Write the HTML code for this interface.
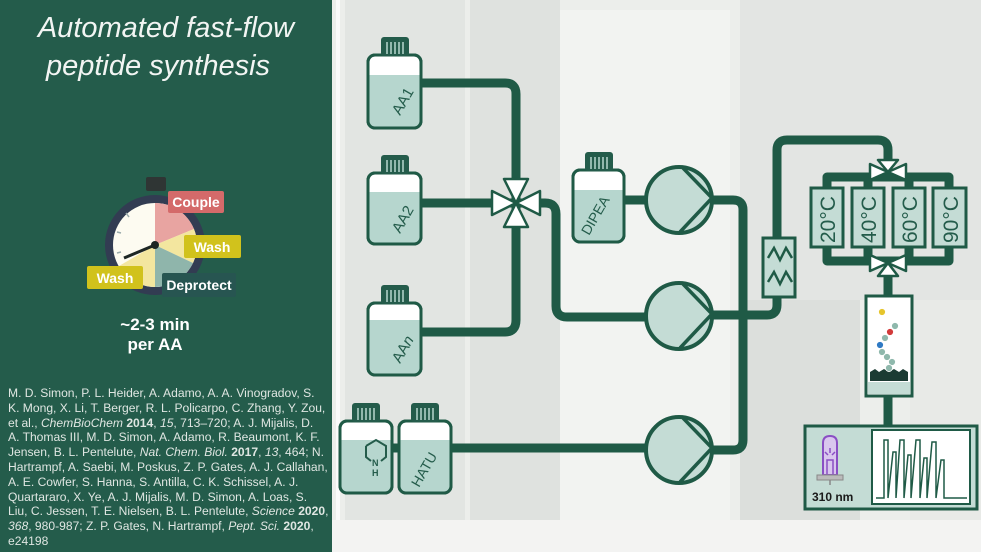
<!DOCTYPE html>
<html><head><meta charset="utf-8"><style>
html,body{margin:0;padding:0;width:981px;height:552px;overflow:hidden;background:#e9ebe8;font-family:"Liberation Sans",sans-serif}
.left{position:absolute;left:0;top:0;width:332px;height:552px;background:#245c4b}
.refs{position:absolute;left:8px;top:386px;font-size:12.1px;line-height:14.8px;color:#dfe6e2;white-space:nowrap}
</style></head><body>
<svg width="981" height="552" style="position:absolute;left:0;top:0" xmlns="http://www.w3.org/2000/svg">
<defs>
<g id="cap"><rect x="0" y="0" width="28" height="19" rx="3" fill="#245c4b"/><path d="M6 5v12M10 5v12M14 5v12M18 5v12M22 5v12" stroke="#b6d6ce" stroke-width="1.5"/></g>
</defs>
<!-- faded background photo suggestion -->
<rect x="332" y="0" width="649" height="552" fill="#eceeeb"/>
<rect x="336" y="0" width="4" height="552" fill="#fafafa"/>
<rect x="345" y="0" width="120" height="552" fill="#e2e5e2"/>
<rect x="470" y="0" width="90" height="552" fill="#dfe2df"/>
<rect x="560" y="10" width="170" height="520" fill="#f2f3f1"/>
<rect x="740" y="0" width="241" height="300" fill="#e3e5e3"/>
<rect x="740" y="300" width="120" height="252" fill="#dcdfdc"/>
<rect x="910" y="300" width="71" height="252" fill="#e8eae7"/>
<rect x="332" y="520" width="649" height="32" fill="#f3f3f2"/>

<g fill="none" stroke="#1f5a46" stroke-width="9" stroke-linejoin="round">
<!-- AA lines -->
<path d="M421 83 H505 Q516 83 516 94 V320 Q516 332 505 332 H421"/>
<path d="M421 203 H516"/>
<path d="M516 203 H545 Q556 203 556 214 V306 Q556 317 567 317 H650"/>
<path d="M451 448 H650"/>
<path d="M392 448 H399"/>
<path d="M624 200 H650"/>
<!-- outputs -->
<path d="M708 200 H733 Q743 200 743 210 V440 Q743 450 733 450 H708"/>
<path d="M708 315 H767 Q777 315 777 305 V150 Q777 140 787 140 H878 Q888 140 888 150 V170"/>
<!-- manifold -->
<path d="M827 188 V177 H949 V188"/>
<path d="M868 177 V188 M909 177 V188"/>
<path d="M827 247 V261 H949 V247"/>
<path d="M868 247 V261 M909 247 V261"/>
<path d="M888 261 V296"/>
<path d="M888 396 V426"/>
</g>
<!-- heat exchanger -->
<rect x="763" y="238" width="32" height="59" fill="#c4dcd5" stroke="#1f5a46" stroke-width="3"/>
<path d="M768 258 l6 -10 l6 12 l6 -12 l6 10 M768 282 l6 -10 l6 12 l6 -12 l6 10" fill="none" stroke="#1f5a46" stroke-width="2.5"/>

<!-- bottles -->
<g stroke="#1f5a46" stroke-width="3">
<g><rect x="368" y="55" width="53" height="73" rx="7" fill="#fff"/><path d="M369.5 75 H419.5 V121 Q419.5 126.5 414 126.5 H375 Q369.5 126.5 369.5 121Z" fill="#b6d6ce" stroke="none"/><rect x="368" y="55" width="53" height="73" rx="7" fill="none"/></g>
<g><rect x="368" y="173" width="53" height="71" rx="7" fill="#fff"/><path d="M369.5 192 H419.5 V237 Q419.5 242.5 414 242.5 H375 Q369.5 242.5 369.5 237Z" fill="#b6d6ce" stroke="none"/><rect x="368" y="173" width="53" height="71" rx="7" fill="none"/></g>
<g><rect x="368" y="303" width="53" height="72" rx="7" fill="#fff"/><path d="M369.5 320 H419.5 V368 Q419.5 373.5 414 373.5 H375 Q369.5 373.5 369.5 368Z" fill="#b6d6ce" stroke="none"/><rect x="368" y="303" width="53" height="72" rx="7" fill="none"/></g>
<g><rect x="340" y="421" width="52" height="72" rx="7" fill="#fff"/><path d="M341.5 440 H390.5 V486 Q390.5 491.5 385 491.5 H347 Q341.5 491.5 341.5 486Z" fill="#b6d6ce" stroke="none"/><rect x="340" y="421" width="52" height="72" rx="7" fill="none"/></g>
<g><rect x="399" y="421" width="52" height="72" rx="7" fill="#fff"/><path d="M400.5 440 H449.5 V486 Q449.5 491.5 444 491.5 H406 Q400.5 491.5 400.5 486Z" fill="#b6d6ce" stroke="none"/><rect x="399" y="421" width="52" height="72" rx="7" fill="none"/></g>
<g><rect x="573" y="170" width="51" height="72" rx="7" fill="#fff"/><path d="M574.5 190 H622.5 V235 Q622.5 240.5 617 240.5 H580 Q574.5 240.5 574.5 235Z" fill="#b6d6ce" stroke="none"/><rect x="573" y="170" width="51" height="72" rx="7" fill="none"/></g>
</g>
<use href="#cap" x="381" y="37"/><use href="#cap" x="381" y="155"/><use href="#cap" x="381" y="285"/>
<use href="#cap" x="352" y="403"/><use href="#cap" x="411" y="403"/><use href="#cap" x="585" y="152"/>
<g fill="#245c4b" font-size="15" font-family="Liberation Sans, sans-serif">
<text transform="translate(400,116) rotate(-60)">AA1</text>
<text transform="translate(400,234) rotate(-60)">AA2</text>
<text transform="translate(400,364) rotate(-60)">AA<tspan font-style="italic">n</tspan></text>
<text transform="translate(419,488) rotate(-60)" font-size="14">HATU</text>
<text transform="translate(589,236) rotate(-60)" font-size="14">DIPEA</text>
</g>
<!-- piperidine -->
<path d="M366 446 l10 -6 l10 6 v11 l-5 4 M371 461 l-5 -4 v-11" fill="none" stroke="#245c4b" stroke-width="2"/>
<text x="372" y="466" font-size="9" fill="#245c4b" font-weight="bold">N</text>
<text x="372" y="476" font-size="9" fill="#245c4b" font-weight="bold">H</text>

<!-- 4-way valve -->
<g fill="#fff" stroke="#1f5a46" stroke-width="2.5" stroke-linejoin="round">
<path d="M516 203 L504 179 H528Z"/><path d="M516 203 L504 227 H528Z"/>
<path d="M516 203 L492 191 V215Z"/><path d="M516 203 L540 191 V215Z"/>
</g>
<!-- top 3-way valve -->
<g fill="#fff" stroke="#1f5a46" stroke-width="2.5" stroke-linejoin="round">
<path d="M888 172 L878 160 H898Z"/><path d="M888 172 L870 164 V180Z"/><path d="M888 172 L906 164 V180Z"/>
<path d="M888 263 L870 255 V271Z"/><path d="M888 263 L906 255 V271Z"/><path d="M888 263 L878 276 H898Z"/>
</g>

<!-- pumps -->
<g fill="#c4dcd5" stroke="#1f5a46" stroke-width="4">
<circle cx="679" cy="200" r="33"/><circle cx="679" cy="316" r="33"/><circle cx="679" cy="450" r="33"/>
</g>
<g fill="none" stroke="#1f5a46" stroke-width="3.5">
<path d="M683 168 L712 198 L680 232"/><path d="M683 284 L712 314 L680 348"/><path d="M683 418 L712 448 L680 482"/>
</g>

<!-- temp columns -->
<g fill="#c4dcd5" stroke="#1f5a46" stroke-width="3">
<rect x="811" y="188" width="32" height="59"/><rect x="852" y="188" width="32" height="59"/>
<rect x="893" y="188" width="32" height="59"/><rect x="933" y="188" width="33" height="59"/>
</g>
<g fill="#245c4b" font-size="21" font-family="Liberation Sans, sans-serif">
<text transform="translate(835,243) rotate(-90)">20°C</text>
<text transform="translate(876,243) rotate(-90)">40°C</text>
<text transform="translate(917,243) rotate(-90)">60°C</text>
<text transform="translate(958,243) rotate(-90)">90°C</text>
</g>

<!-- reactor -->
<rect x="866" y="296" width="46" height="100" fill="#fff" stroke="#1f5a46" stroke-width="3"/>
<rect x="868" y="382" width="42" height="12" fill="#c4dcd5"/>
<path d="M870 372 l5 -3 l4 3 l5 -3 l5 3 l5 -3 l5 3 l4 -3 l5 3 v9 h-38z" fill="#1b3b33"/>
<g stroke="#fff" stroke-width="0.8">
<circle cx="882" cy="312" r="3.5" fill="#e6c52c"/>
<circle cx="895" cy="326" r="3.5" fill="#8fb8ac"/><circle cx="890" cy="332" r="3.5" fill="#d23a3a"/>
<circle cx="885" cy="338" r="3.5" fill="#8fb8ac"/><circle cx="880" cy="345" r="3.5" fill="#2f7ac4"/>
<circle cx="882" cy="352" r="3.5" fill="#8fb8ac"/><circle cx="887" cy="357" r="3.5" fill="#8fb8ac"/>
<circle cx="892" cy="362" r="3.5" fill="#8fb8ac"/><circle cx="889" cy="368" r="3.5" fill="#8fb8ac"/>
</g>

<!-- detector -->
<rect x="805" y="426" width="172" height="83" fill="#c4dcd5" stroke="#1f5a46" stroke-width="3"/>
<rect x="872" y="430" width="98" height="74" fill="#fff" stroke="#1f5a46" stroke-width="2"/>
<path d="M876 498 H884 V440 H888 V498 L893 452 H896 V498 L900 440 H904 V498 L908 455 H911 V498 L916 440 H920 V498 L924 458 H927 V498 L932 442 H936 V498 L941 460 H944 V498 H967" fill="none" stroke="#1f5a46" stroke-width="1.5"/>
<path d="M823 475 V443 Q823 436 830 436 Q837 436 837 443 V475Z" fill="#d9c6ee" stroke="#8a4fc4" stroke-width="2"/>
<path d="M827 474 V460 H833 V474 M830 448 v5 M825 452 l3 3 M835 452 l-3 3" fill="none" stroke="#8a4fc4" stroke-width="1.5"/>
<rect x="817" y="475" width="26" height="5" fill="#bbb" stroke="#888"/>
<path d="M830 480 v5" stroke="#888" stroke-width="1.5"/>
<text x="812" y="501" font-size="12" font-weight="bold" fill="#1a1a1a">310 nm</text>
</svg>

<div class="left">
<svg width="332" height="552" xmlns="http://www.w3.org/2000/svg" style="position:absolute;left:0;top:0">
<text x="166" y="37" text-anchor="middle" font-size="29" font-style="italic" fill="#f2f5f3" font-family="Liberation Sans, sans-serif">Automated fast-flow</text>
<text x="158" y="75" text-anchor="middle" font-size="29" font-style="italic" fill="#f2f5f3" font-family="Liberation Sans, sans-serif">peptide synthesis</text>
<rect x="146" y="177" width="20" height="14" rx="2" fill="#2f3534"/>
<circle cx="155" cy="245" r="50" fill="#323c52"/>
<circle cx="155" cy="245" r="42" fill="#fdfbf1"/>
<path d="M155 245 L155 203 A42 42 0 0 1 194 229Z" fill="#e8a4a1"/>
<path d="M155 245 L194 229 A42 42 0 0 1 193 263Z" fill="#f3e69f"/>
<path d="M155 245 L193 263 A42 42 0 0 1 155 287Z" fill="#8fb5ab"/>
<path d="M155 245 L155 287 A42 42 0 0 1 119 266Z" fill="#f3e69f"/>
<path d="M155 245 L124 258" stroke="#1d2624" stroke-width="3"/>
<circle cx="155" cy="245" r="4" fill="#1d2624"/>
<path d="M126 213 l3 4 M117 232 l4 1 M117 253 l4 -1" stroke="#9aa" stroke-width="1.5"/>
<rect x="168" y="191" width="56" height="22" rx="2" fill="#d46a6a"/>
<text x="196" y="207" text-anchor="middle" font-size="14" font-weight="bold" fill="#fff">Couple</text>
<rect x="184" y="235" width="57" height="23" rx="2" fill="#d1c21c"/>
<text x="212" y="252" text-anchor="middle" font-size="14" font-weight="bold" fill="#fff">Wash</text>
<rect x="87" y="266" width="56" height="23" rx="2" fill="#d1c21c"/>
<text x="115" y="283" text-anchor="middle" font-size="14" font-weight="bold" fill="#fff">Wash</text>
<rect x="162" y="273" width="74" height="24" rx="2" fill="#275551"/>
<text x="199" y="290" text-anchor="middle" font-size="14" font-weight="bold" fill="#fff">Deprotect</text>
<text x="155" y="330" text-anchor="middle" font-size="17" font-weight="bold" fill="#fff">~2-3 min</text>
<text x="155" y="350" text-anchor="middle" font-size="17" font-weight="bold" fill="#fff">per AA</text>
</svg>
<div class="refs">M. D. Simon, P. L. Heider, A. Adamo, A. A. Vinogradov, S.<br>K. Mong, X. Li, T. Berger, R. L. Policarpo, C. Zhang, Y. Zou,<br>et al., <i>ChemBioChem</i> <b>2014</b>, <i>15</i>, 713–720; A. J. Mijalis, D.<br>A. Thomas III, M. D. Simon, A. Adamo, R. Beaumont, K. F.<br>Jensen, B. L. Pentelute, <i>Nat. Chem. Biol.</i> <b>2017</b>, <i>13</i>, 464; N.<br>Hartrampf, A. Saebi, M. Poskus, Z. P. Gates, A. J. Callahan,<br>A. E. Cowfer, S. Hanna, S. Antilla, C. K. Schissel, A. J.<br>Quartararo, X. Ye, A. J. Mijalis, M. D. Simon, A. Loas, S.<br>Liu, C. Jessen, T. E. Nielsen, B. L. Pentelute, <i>Science</i> <b>2020</b>,<br><i>368</i>, 980-987; Z. P. Gates, N. Hartrampf, <i>Pept. Sci.</i> <b>2020</b>,<br>e24198</div>
</div>
</body></html>
